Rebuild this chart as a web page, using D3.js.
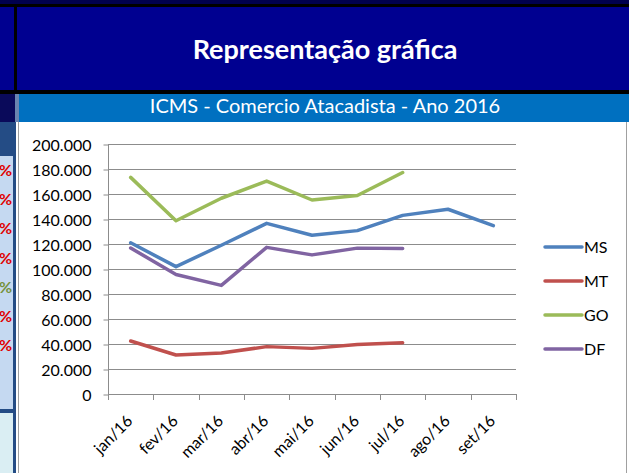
<!DOCTYPE html>
<html>
<head>
<meta charset="utf-8">
<script src="https://cdn.jsdelivr.net/npm/d3@7"></script>
<style>
html,body{margin:0;padding:0;background:#fff;}
svg{display:block;}
</style>
</head>
<body>
<svg id="c" width="629" height="473"></svg>
<script>
const title = "Representação gráfica";
const subtitle = "ICMS - Comercio Atacadista - Ano 2016";
const months = ["jan/16","fev/16","mar/16","abr/16","mai/16","jun/16","jul/16","ago/16","set/16"];
const seriesNames = ["MS","MT","GO","DF"];
const seriesColors = ["#4F81BD","#C0504D","#9BBB59","#8064A2"];
const valuesMS = [121000,101900,119000,136500,127000,130700,142900,147800,134700];
const valuesMT = [42400,31200,32800,37900,36500,39600,41000,null,null];
const valuesGO = [173300,138600,156600,170300,155200,158800,177200,null,null];
const valuesDF = [116800,95600,86900,117300,111300,116700,116400,null,null];
const yTicks = [0,20000,40000,60000,80000,100000,120000,140000,160000,180000,200000];
const sideMarks = ["%","%","%","%","%","%","%"];
const sideColors = ["#E00000","#E00000","#E00000","#E00000","#76923C","#E00000","#E00000"];

const allSeries = [valuesMS, valuesMT, valuesGO, valuesDF];
const svg = d3.select("#c");
const FONT = "Lato, 'Open Sans', sans-serif";

// ---- background / frame ----
svg.append("rect").attr("x",0).attr("y",0).attr("width",629).attr("height",473).attr("fill","#fff");
svg.append("rect").attr("x",0).attr("y",0).attr("width",629).attr("height",4).attr("fill","#00004F");
svg.append("rect").attr("x",0).attr("y",4).attr("width",629).attr("height",3).attr("fill","#000");
svg.append("rect").attr("x",0).attr("y",7).attr("width",629).attr("height",84).attr("fill","#000090");
svg.append("rect").attr("x",14).attr("y",7).attr("width",3).attr("height",84).attr("fill","#000");
svg.append("rect").attr("x",0).attr("y",90).attr("width",629).attr("height",4).attr("fill","#000");
// subtitle row
svg.append("rect").attr("x",0).attr("y",94).attr("width",15).attr("height",28).attr("fill","#0A0A5A");
svg.append("rect").attr("x",15).attr("y",94).attr("width",4).attr("height",28).attr("fill","#6A84B0");
svg.append("rect").attr("x",19).attr("y",94).attr("width",610).attr("height",28).attr("fill","#0070C0");
// left column
svg.append("rect").attr("x",0).attr("y",122).attr("width",15).attr("height",34).attr("fill","#244C85");
svg.append("rect").attr("x",0).attr("y",156).attr("width",15).attr("height",254).attr("fill","#C5D9F1");
svg.append("rect").attr("x",0).attr("y",409).attr("width",15).attr("height",4).attr("fill","#244C85");
svg.append("rect").attr("x",0).attr("y",413).attr("width",15).attr("height",60).attr("fill","#DAEEF3");
svg.append("rect").attr("x",13).attr("y",122).attr("width",3).attr("height",351).attr("fill","#244C85");
// chart border
svg.append("line").attr("x1",18.5).attr("x2",18.5).attr("y1",122).attr("y2",473).attr("stroke","#A0A0A0");
svg.append("line").attr("x1",626.5).attr("x2",626.5).attr("y1",122).attr("y2",473).attr("stroke","#A0A0A0");
svg.append("rect").attr("x",627).attr("y",122).attr("width",2).attr("height",351).attr("fill","#fff");

// side marks
const markY = d3.scalePoint().domain(d3.range(sideMarks.length)).range([176,351]);
svg.append("g").selectAll("text").data(sideMarks).join("text")
  .attr("x",12).attr("y",(d,i)=>markY(i)).attr("text-anchor","end")
  .attr("font-family",FONT).attr("font-weight","bold").attr("font-size",16)
  .attr("fill",(d,i)=>sideColors[i]).text(d=>d);

// titles
svg.append("text").attr("x",325).attr("y",59).attr("text-anchor","middle")
  .attr("font-family",FONT).attr("font-weight","bold").attr("font-size",27)
  .attr("fill","#fff").text(title);
svg.append("text").attr("x",325).attr("y",113).attr("text-anchor","middle")
  .attr("font-family",FONT).attr("font-size",20)
  .attr("fill","#fff").text(subtitle);

// ---- scales ----
const x = d3.scaleBand().domain(months).range([108,516]).padding(0);
const y = d3.scaleLinear().domain([0,200000]).range([394,144]);
const loc = d3.formatLocale({decimal:",",thousands:".",grouping:[3],currency:["",""]});
const fmt = loc.format(",d");

// gridlines
svg.append("g").selectAll("line").data(yTicks.filter(d=>d>0)).join("line")
  .attr("x1",108).attr("x2",516).attr("y1",d=>Math.round(y(d))+0.5).attr("y2",d=>Math.round(y(d))+0.5)
  .attr("stroke","#8C8C8C").attr("stroke-width",1);

// y axis
const yAxis = d3.axisLeft(y).tickValues(yTicks).tickFormat(fmt).tickSize(5).tickPadding(12);
const gy = svg.append("g").attr("transform","translate(108.5,0.5)").call(yAxis);
gy.select(".domain").attr("stroke","#8C8C8C").attr("d","M0,"+(y(200000)-0.5)+"V"+(y(0)-0.5));
gy.selectAll(".tick line").attr("stroke","#8C8C8C").attr("x2",-5);
gy.selectAll(".tick text").attr("font-family",FONT).attr("font-size",16).attr("fill","#000").attr("dy","0.36em");

// x axis
const boundaries = months.map(m=>x(m)).concat([x.range()[1]]);
svg.append("line").attr("x1",108).attr("x2",517).attr("y1",394.5).attr("y2",394.5).attr("stroke","#8C8C8C");
svg.append("g").selectAll("line").data(boundaries).join("line")
  .attr("x1",d=>Math.round(d)+0.5).attr("x2",d=>Math.round(d)+0.5).attr("y1",394).attr("y2",400)
  .attr("stroke","#8C8C8C");
svg.append("g").selectAll("text").data(months).join("text")
  .attr("transform",d=>`translate(${x(d)+x.bandwidth()/2+3},${422}) rotate(-45)`)
  .attr("text-anchor","end").attr("font-family",FONT).attr("font-size",16).attr("fill","#000")
  .text(d=>d);

// lines
const line = d3.line()
  .defined(d=>d.v!==null)
  .x(d=>x(d.m)+x.bandwidth()/2)
  .y(d=>y(d.v));
allSeries.forEach((vals,i)=>{
  const data = months.map((m,j)=>({m:m,v:vals[j]}));
  svg.append("path").datum(data).attr("d",line)
    .attr("fill","none").attr("stroke",seriesColors[i]).attr("stroke-width",3.5)
    .attr("stroke-linejoin","round").attr("stroke-linecap","round");
});

// legend
const ly = d3.scalePoint().domain(seriesNames).range([247,349]);
const lg = svg.append("g");
seriesNames.forEach((n,i)=>{
  lg.append("line").attr("x1",545).attr("x2",582).attr("y1",ly(n)).attr("y2",ly(n))
    .attr("stroke",seriesColors[i]).attr("stroke-width",3.5).attr("stroke-linecap","round");
  lg.append("text").attr("x",584).attr("y",ly(n)).attr("dy","0.36em")
    .attr("font-family",FONT).attr("font-size",16).attr("fill","#000").text(n);
});
</script>
</body>
</html>
